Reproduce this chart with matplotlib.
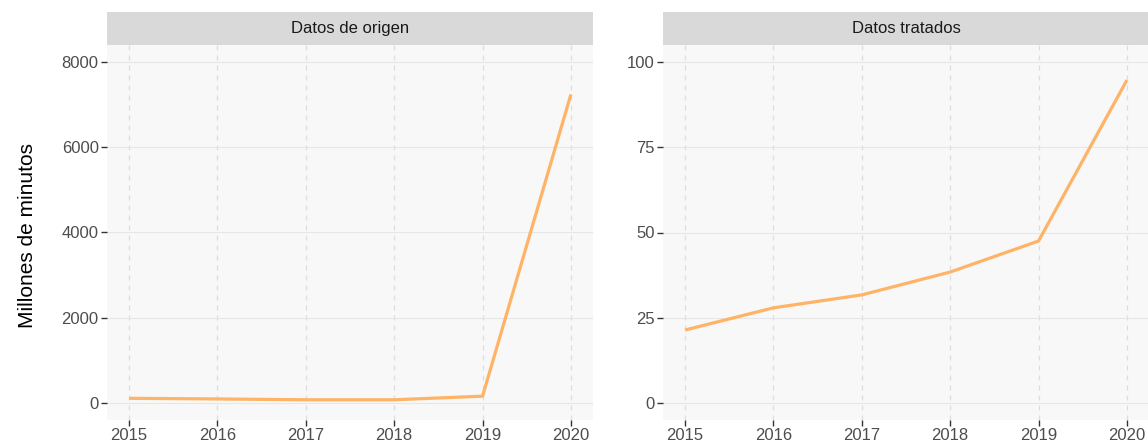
import matplotlib
matplotlib.use("Agg")
import matplotlib.pyplot as plt

# ------------------------------------------------------------
# Data
# ------------------------------------------------------------
years = [2015, 2016, 2017, 2018, 2019, 2020]
origen = [110, 95, 75, 75, 160, 7240]        # Datos de origen (millones de minutos)
tratados = [21.4, 27.9, 31.7, 38.4, 47.5, 94.7]  # Datos tratados
panel_titles = ["Datos de origen", "Datos tratados"]
origen_ticks = [0, 2000, 4000, 6000, 8000]
tratados_ticks = [0, 25, 50, 75, 100]
y_label = "Millones de minutos"

# ------------------------------------------------------------
# Style (ggplot-like)
# ------------------------------------------------------------
plt.rcParams["font.family"] = ["Liberation Sans", "DejaVu Sans"]
line_color = "#FFB366"
panel_bg = "#F7F8F7"
strip_bg = "#D9D9D9"
grid_color = "#E6E6E6"
tick_color = "#4D4D4D"

W, H = 1148, 445
fig = plt.figure(figsize=(W / 100, H / 100), dpi=100)


def px_axes(x0, y0, x1, y1):
    # pixel box (top-left origin) -> figure fraction axes
    return fig.add_axes([x0 / W, 1 - y1 / H, (x1 - x0) / W, (y1 - y0) / H])


panels = [
    (107, origen, origen_ticks, (-399, 8399)),
    (663, tratados, tratados_ticks, (-5, 105)),
]

for (x0, values, yticks, ylim), title in zip(panels, panel_titles):
    ax = px_axes(x0, 45, x0 + 486, 420)
    ax.set_facecolor(panel_bg)
    ax.plot(years, values, color=line_color, linewidth=2.3, solid_capstyle="butt", zorder=3)
    ax.set_xlim(2014.75, 2020.25)
    ax.set_ylim(*ylim)
    ax.set_xticks(years)
    ax.set_yticks(yticks)
    ax.xaxis.grid(True, color="#DDDDDD", linestyle=(0, (4, 4)), linewidth=0.9)
    ax.yaxis.grid(True, color=grid_color, linestyle="-", linewidth=0.8)
    ax.set_axisbelow(True)
    for s in ax.spines.values():
        s.set_visible(False)
    ax.tick_params(axis="both", colors="#333333", labelcolor=tick_color,
                   labelsize=12, length=4, width=1, pad=2)

    # facet strip
    strip = px_axes(x0, 11.5, x0 + 486, 45)
    strip.set_facecolor(strip_bg)
    strip.set_xticks([])
    strip.set_yticks([])
    for s in strip.spines.values():
        s.set_visible(False)
    strip.text(0.5, 0.5, title, ha="center", va="center",
               fontsize=12, color="#1A1A1A", transform=strip.transAxes)

fig.text(28 / W, 1 - 236 / H, y_label, rotation=90, ha="center", va="center",
         fontsize=15, color="#000000")

fig.savefig("out.png", dpi=100, facecolor="white")
